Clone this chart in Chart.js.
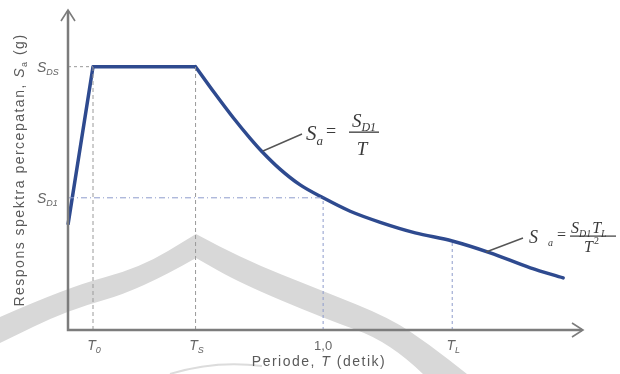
<!DOCTYPE html>
<html>
<head>
<meta charset="utf-8">
<script src="https://cdn.jsdelivr.net/npm/chart.js@4/dist/chart.umd.min.js"></script>
<style>
  html, body { margin: 0; padding: 0; background: #fff; }
  #box { width: 620px; height: 374px; position: relative; }
</style>
</head>
<body>
<div id="box"><canvas id="spectrumChart"></canvas></div>
<script>
// values (T in detik, Sa in units of S_DS)
var rampPeriods = [0, 0.098, 0.5];
var rampValues = [0.40, 1.0, 1.0];
var descPeriods = [0.5, 0.576, 0.647, 0.714, 0.761, 0.831, 0.91, 1.0, 1.106, 1.224, 1.361, 1.506, 1.655, 1.812, 1.941];
var descValues = [1.0, 0.898, 0.807, 0.728, 0.677, 0.611, 0.551, 0.502, 0.451, 0.409, 0.369, 0.338, 0.293, 0.236, 0.198];

var tickPeriods = [0.098, 0.5, 1.0, 1.506];
var tickMain = ["T", "T", "1,0", "T"];
var tickSub = ["0", "S", "", "L"];
var levelValues = [1.0, 0.502];
var levelSub = ["DS", "D1"];

var xTitle = ["Periode, ", "T", " (detik)"];
var yTitle = ["Respons spektra percepatan, ", "S", "a", " (g)"];

function pts(xs, ys) {
    return xs.map(function (x, i) { return { x: x, y: ys[i] }; });
}

var GREY = "#9a9a9a";
var BLUEGREY = "#8e9ccc";

var guides = [
    { data: [{ x: tickPeriods[0], y: 0 }, { x: tickPeriods[0], y: levelValues[0] }], color: GREY, dash: [4, 3] },
    { data: [{ x: tickPeriods[1], y: 0 }, { x: tickPeriods[1], y: levelValues[0] }], color: GREY, dash: [4, 3] },
    { data: [{ x: 0, y: levelValues[0] }, { x: tickPeriods[0], y: levelValues[0] }], color: GREY, dash: [3, 3] },
    { data: [{ x: tickPeriods[2], y: 0 }, { x: tickPeriods[2], y: levelValues[1] }], color: BLUEGREY, dash: [3, 3] },
    { data: [{ x: tickPeriods[3], y: 0 }, { x: tickPeriods[3], y: descValues[11] }], color: BLUEGREY, dash: [3, 3] },
    { data: [{ x: 0, y: levelValues[1] }, { x: tickPeriods[2], y: levelValues[1] }], color: BLUEGREY, dash: [6, 3, 1, 3] }
];

var datasets = guides.map(function (g) {
    return {
        data: g.data,
        borderColor: g.color,
        borderWidth: 1,
        borderDash: g.dash,
        pointRadius: 0,
        tension: 0
    };
});
datasets.push({
    data: pts(rampPeriods, rampValues),
    borderColor: "#2e4a8f",
    borderWidth: 3.5,
    borderJoinStyle: "round",
    pointRadius: 0,
    tension: 0,
    clip: 6
});
datasets.push({
    data: pts(descPeriods, descValues),
    borderColor: "#2e4a8f",
    borderWidth: 3.5,
    borderJoinStyle: "round",
    borderCapStyle: "round",
    pointRadius: 0,
    cubicInterpolationMode: "monotone",
    clip: 6
});

// smooth path through a list of points
function smooth(ctx, p, first) {
    if (first) ctx.moveTo(p[0][0], p[0][1]); else ctx.lineTo(p[0][0], p[0][1]);
    for (var i = 1; i < p.length - 1; i++) {
        var mx = (p[i][0] + p[i + 1][0]) / 2, my = (p[i][1] + p[i + 1][1]) / 2;
        ctx.quadraticCurveTo(p[i][0], p[i][1], mx, my);
    }
    ctx.lineTo(p[p.length - 1][0], p[p.length - 1][1]);
}

function subText(ctx, main, sub, x, y, size, family, style, align) {
    ctx.font = style + " " + size + "px " + family;
    var w1 = ctx.measureText(main).width;
    ctx.font = style + " " + Math.round(size * 0.62) + "px " + family;
    var w2 = ctx.measureText(sub).width;
    var x0 = align === "center" ? x - (w1 + w2) / 2 : (align === "right" ? x - w1 - w2 : x);
    ctx.textAlign = "left";
    ctx.font = style + " " + size + "px " + family;
    ctx.fillText(main, x0, y);
    ctx.font = style + " " + Math.round(size * 0.62) + "px " + family;
    ctx.fillText(sub, x0 + w1, y + size * 0.22);
    return w1 + w2;
}

// draws parts of mixed style in a row, centred on cx
function partsRow(ctx, parts, cx, y) {
    var widths = parts.map(function (p) { ctx.font = p.font; return ctx.measureText(p.text).width; });
    var total = widths.reduce(function (s, w) { return s + w; }, 0);
    var x = cx - total / 2;
    ctx.textAlign = "left";
    parts.forEach(function (p, i) {
        ctx.font = p.font;
        ctx.fillText(p.text, x, y + (p.dy || 0));
        x += widths[i];
    });
}

var decor = {
    id: "decor",
    beforeDatasetsDraw: function (chart) {
        var ctx = chart.ctx;
        ctx.save();
        // watermark swoosh
        ctx.fillStyle = "#d8d8d8";
        ctx.beginPath();
        smooth(ctx, [[0, 317], [68, 287], [140, 268], [196, 234]], true);
        smooth(ctx, [[196, 234], [240, 258], [323, 291], [390, 318], [430, 345], [467, 374]], false);
        ctx.lineTo(423, 374);
        smooth(ctx, [[423, 374], [390, 342], [323, 318], [240, 283], [196, 258]], false);
        smooth(ctx, [[196, 258], [140, 290], [68, 310], [0, 343]], false);
        ctx.closePath();
        ctx.fill();
        ctx.strokeStyle = "#dcdcdc";
        ctx.lineWidth = 2;
        ctx.beginPath();
        ctx.moveTo(170, 374);
        ctx.quadraticCurveTo(215, 360, 262, 366);
        ctx.stroke();
        ctx.restore();
    },
    afterDatasetsDraw: function (chart) {
        var ctx = chart.ctx, xs = chart.scales.x, ys = chart.scales.y;
        var x0 = xs.getPixelForValue(0), y0 = ys.getPixelForValue(0);
        var sans = "'Liberation Sans', Arial, sans-serif";
        ctx.save();
        // axes with arrows
        ctx.strokeStyle = "#7c7c7c";
        ctx.lineWidth = 2.5;
        ctx.beginPath();
        ctx.moveTo(x0, 11);
        ctx.lineTo(x0, y0);
        ctx.lineTo(582, y0);
        ctx.stroke();
        ctx.lineWidth = 1.6;
        ctx.beginPath();
        ctx.moveTo(x0 - 7, 21); ctx.lineTo(x0, 10); ctx.lineTo(x0 + 7, 21);
        ctx.moveTo(572, y0 - 7); ctx.lineTo(583, y0); ctx.lineTo(572, y0 + 7);
        ctx.stroke();

        // tick labels
        ctx.fillStyle = "#666";
        ctx.textBaseline = "alphabetic";
        tickPeriods.forEach(function (t, i) {
            var px = xs.getPixelForValue(t);
            if (tickSub[i]) {
                subText(ctx, tickMain[i], tickSub[i], px + 1, 350, 14, sans, "italic", "center");
            } else {
                ctx.font = "13px " + sans;
                ctx.textAlign = "center";
                ctx.fillText(tickMain[i], px, 350);
            }
        });
        levelValues.forEach(function (v, i) {
            var py = ys.getPixelForValue(v);
            subText(ctx, "S", levelSub[i], 37, py + 5, 14, sans, "italic", "left");
        });

        // axis titles
        ctx.fillStyle = "#5a5a5a";
        ctx.letterSpacing = "1.5px";
        partsRow(ctx, [
            { text: xTitle[0], font: "14px " + sans },
            { text: xTitle[1], font: "italic 14px " + sans },
            { text: xTitle[2], font: "14px " + sans }
        ], 319, 366);

        ctx.save();
        ctx.translate(24, 170);
        ctx.rotate(-Math.PI / 2);
        partsRow(ctx, [
            { text: yTitle[0], font: "14px " + sans },
            { text: yTitle[1], font: "italic 14px " + sans },
            { text: yTitle[2], font: "9px " + sans, dy: 3 },
            { text: yTitle[3], font: "14px " + sans }
        ], 0, 0);
        ctx.restore();
        ctx.letterSpacing = "0px";

        // leaders
        ctx.strokeStyle = "#555";
        ctx.lineWidth = 1.4;
        ctx.beginPath();
        ctx.moveTo(263, 151); ctx.lineTo(302, 134);
        ctx.moveTo(486, 252); ctx.lineTo(523, 238);
        ctx.stroke();

        // formula 1
        var serif = "'Liberation Serif', 'Times New Roman', serif";
        ctx.fillStyle = "#3a3a3a";
        subText(ctx, "S", "a", 306, 140, 21, serif, "italic", "left");
        ctx.font = "18px " + serif;
        ctx.textAlign = "left";
        ctx.fillText("=", 326, 137);
        subText(ctx, "S", "D1", 364, 127, 19, serif, "italic", "center");
        ctx.fillRect(349, 131.5, 30, 1.3);
        ctx.font = "italic 19px " + serif;
        ctx.textAlign = "center";
        ctx.fillText("T", 362, 155);

        // formula 2
        ctx.font = "italic 18px " + serif;
        ctx.textAlign = "left";
        ctx.fillText("S", 529, 243);
        ctx.font = "italic 10px " + serif;
        ctx.fillText("a", 548, 246);
        ctx.font = "16px " + serif;
        ctx.fillText("=", 557, 240);
        var nw = subText(ctx, "S", "D1", 571, 233, 16, serif, "italic", "left");
        subText(ctx, "T", "L", 571 + nw + 1, 233, 16, serif, "italic", "left");
        ctx.fillRect(570, 235.5, 46, 1.2);
        ctx.font = "italic 16px " + serif;
        ctx.textAlign = "left";
        ctx.fillText("T", 584, 252);
        ctx.font = "10px " + serif;
        ctx.fillText("2", 594, 244);
        ctx.restore();
    }
};

new Chart(document.getElementById("spectrumChart"), {
    type: "line",
    data: { datasets: datasets },
    options: {
        responsive: true,
        maintainAspectRatio: false,
        animation: false,
        layout: { padding: { left: 68, right: 29, top: 14, bottom: 44 } },
        plugins: { legend: { display: false }, tooltip: { enabled: false } },
        scales: {
            x: { type: "linear", display: false, min: 0, max: 2.05 },
            y: { type: "linear", display: false, min: 0, max: 1.2 }
        }
    },
    plugins: [decor]
});
</script>
</body>
</html>
